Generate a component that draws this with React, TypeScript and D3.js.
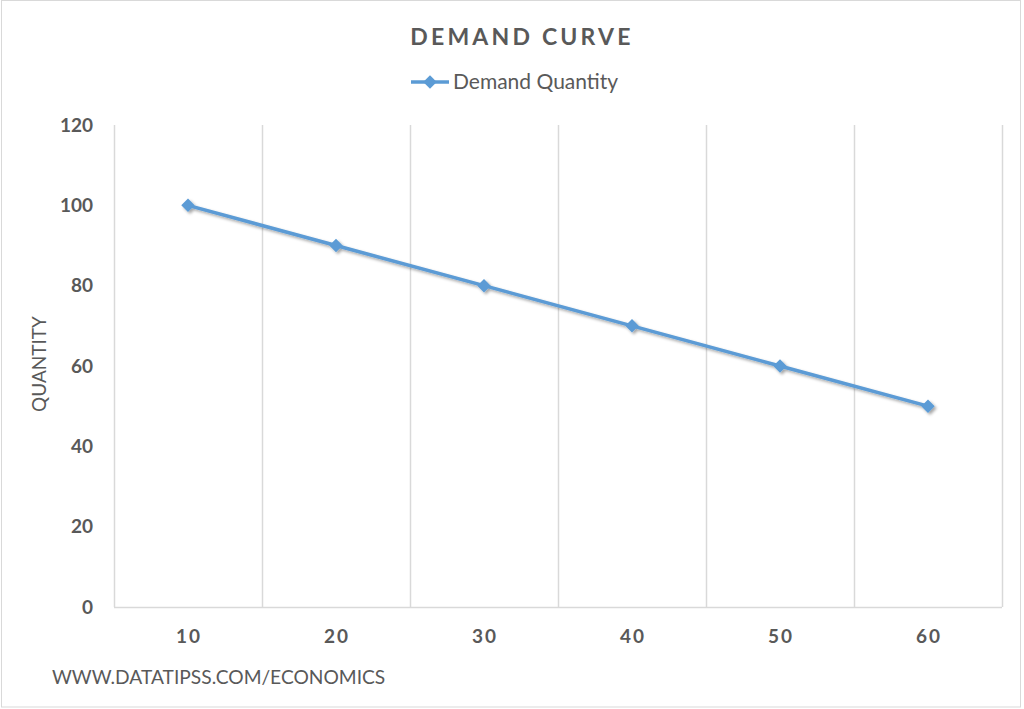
import React, { useEffect, useRef } from 'react';
import * as d3 from 'd3';

const prices = ['10', '20', '30', '40', '50', '60'];
const quantities = [100, 90, 80, 70, 60, 50];
const yTicks = [0, 20, 40, 60, 80, 100, 120];

const W = 1024;
const H = 709;
const FONT = 'Lato, "Open Sans", sans-serif';
const TEXT = '#595959';
const BLUE = '#5b9bd5';

const App = () => {
  const svgRef = useRef<SVGSVGElement>(null);

  useEffect(() => {
    const svg = d3.select(svgRef.current);
    svg.selectAll('*').remove();

    const margin = { top: 125, right: 22, bottom: 102, left: 114 };
    const innerW = W - margin.left - margin.right;
    const innerH = H - margin.top - margin.bottom;

    const x = d3.scaleBand().domain(prices).range([margin.left, margin.left + innerW]);
    const y = d3.scaleLinear().domain([0, 120]).range([margin.top + innerH, margin.top]);

    const defs = svg.append('defs');
    const f = defs.append('filter').attr('id', 'shadow').attr('x', '-20%').attr('y', '-20%').attr('width', '140%').attr('height', '140%');
    f.append('feDropShadow')
      .attr('dx', 2).attr('dy', 2).attr('stdDeviation', 1.5)
      .attr('flood-color', '#000').attr('flood-opacity', 0.35);

    // chart frame
    svg.append('rect')
      .attr('x', 1.5).attr('y', 0.5).attr('width', W - 5).attr('height', H - 2.5)
      .attr('fill', '#fff').attr('stroke', '#d9d9d9');

    // vertical gridlines at band edges
    const edges = prices.map(p => x(p) as number).concat([margin.left + innerW]);
    svg.append('g')
      .selectAll('line')
      .data(edges)
      .join('line')
      .attr('x1', d => Math.round(d) + 0.5).attr('x2', d => Math.round(d) + 0.5)
      .attr('y1', y(120)).attr('y2', y(0))
      .attr('stroke', '#d9d9d9').attr('stroke-width', 1.5);

    // bottom axis line
    svg.append('line')
      .attr('x1', margin.left).attr('x2', margin.left + innerW)
      .attr('y1', y(0) + 0.5).attr('y2', y(0) + 0.5)
      .attr('stroke', '#d9d9d9').attr('stroke-width', 1.5);

    // y tick labels
    svg.append('g')
      .selectAll('text')
      .data(yTicks)
      .join('text')
      .attr('x', 93).attr('y', d => y(d))
      .attr('dy', '0.35em')
      .attr('text-anchor', 'end')
      .attr('font-family', FONT).attr('font-size', 19).attr('font-weight', 'bold')
      .attr('fill', TEXT)
      .text(d => d);

    // x tick labels
    svg.append('g')
      .selectAll('text')
      .data(prices)
      .join('text')
      .attr('x', d => (x(d) as number) + x.bandwidth() / 2 + 1)
      .attr('y', 643)
      .attr('text-anchor', 'middle')
      .attr('font-family', FONT).attr('font-size', 19).attr('font-weight', 'bold')
      .attr('letter-spacing', 2)
      .attr('fill', TEXT)
      .text(d => d);

    // y axis title
    svg.append('text')
      .attr('transform', `translate(46, ${y(60) - 2}) rotate(-90)`)
      .attr('text-anchor', 'middle')
      .attr('font-family', FONT).attr('font-size', 19)
      .attr('fill', TEXT)
      .text('QUANTITY');

    // series
    const line = d3.line<number>()
      .x((d, i) => (x(prices[i]) as number) + x.bandwidth() / 2)
      .y(d => y(d));

    const series = svg.append('g').attr('filter', 'url(#shadow)');
    series.append('path')
      .attr('d', line(quantities))
      .attr('fill', 'none')
      .attr('stroke', BLUE).attr('stroke-width', 3.5)
      .attr('stroke-linejoin', 'round');

    const diamond = d3.symbol().type(d3.symbolDiamond2).size(115);
    series.selectAll('path.marker')
      .data(quantities)
      .join('path')
      .attr('class', 'marker')
      .attr('d', diamond())
      .attr('transform', (d, i) => `translate(${(x(prices[i]) as number) + x.bandwidth() / 2}, ${y(d)})`)
      .attr('fill', BLUE);

    // title
    svg.append('text')
      .attr('x', 522).attr('y', 45)
      .attr('text-anchor', 'middle')
      .attr('font-family', FONT).attr('font-size', 23).attr('font-weight', 'bold')
      .attr('letter-spacing', 3.2)
      .attr('fill', TEXT)
      .text('DEMAND CURVE');

    // legend
    const lg = svg.append('g').attr('transform', 'translate(411, 82)');
    lg.append('line').attr('x1', 0).attr('x2', 38).attr('y1', 0).attr('y2', 0)
      .attr('stroke', BLUE).attr('stroke-width', 3.5);
    lg.append('path').attr('d', diamond()).attr('transform', 'translate(19, 0)').attr('fill', BLUE);
    lg.append('text')
      .attr('x', 42).attr('y', 0).attr('dy', '0.35em')
      .attr('font-family', FONT).attr('font-size', 21)
      .attr('fill', TEXT)
      .text('Demand Quantity');

    // footer
    svg.append('text')
      .attr('x', 52).attr('y', 684)
      .attr('font-family', FONT).attr('font-size', 19.2)
      .attr('fill', TEXT)
      .text('WWW.DATATIPSS.COM/ECONOMICS');
  }, []);

  return (
    <div style={{ position: 'absolute', left: 0, top: 0, width: W, height: H }}>
      <svg ref={svgRef} width={W} height={H} style={{ display: 'block', background: '#fff' }}></svg>
    </div>
  );
};

export default App;
